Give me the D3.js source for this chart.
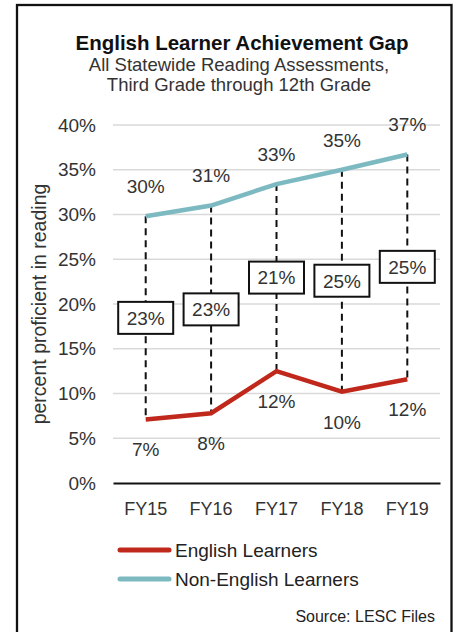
<!DOCTYPE html>
<html><head><meta charset="utf-8">
<script src="https://cdn.jsdelivr.net/npm/d3@7"></script>
<style>body{margin:0;background:#fff}svg{display:block}text{font-family:"Liberation Sans",Arial,sans-serif;fill:#333}</style>
</head><body>
<script>
const years = ["FY15","FY16","FY17","FY18","FY19"];
const englishLearners = [7.1, 7.8, 12.5, 10.2, 11.6];
const nonEnglishLearners = [29.8, 31.0, 33.4, 35.0, 36.7];
const elLabels = ["7%","8%","12%","10%","12%"];
const nonElLabels = ["30%","31%","33%","35%","37%"];
const gapLabels = ["23%","23%","21%","25%","25%"];
const yTicks = [0,5,10,15,20,25,30,35,40];

const W = 458, H = 632;
const NUM = "19px";
const svg = d3.select("body").append("svg").attr("width", W).attr("height", H);

svg.append("rect").attr("x",17).attr("y",5).attr("width",434.5).attr("height",H+10)
  .attr("fill","none").attr("stroke","#111").attr("stroke-width",2.3);

const x = d3.scaleBand().domain(years).range([113,440]);
const xc = d => x(d) + x.bandwidth()/2;
const y = d3.scaleLinear().domain([0,40]).range([483,125]);

// titles
svg.append("text").attr("x",242).attr("y",50).attr("text-anchor","middle")
  .style("font-size","20.5px").style("font-weight","bold").style("fill","#111")
  .text("English Learner Achievement Gap");
svg.append("text").attr("x",239).attr("y",71).attr("text-anchor","middle")
  .style("font-size","18.5px").text("All Statewide Reading Assessments,");
svg.append("text").attr("x",239).attr("y",91).attr("text-anchor","middle")
  .style("font-size","18.5px").text("Third Grade through 12th Grade");

// grid
svg.append("g").selectAll("line").data(yTicks.filter(d=>d>0)).join("line")
  .attr("x1",113).attr("x2",440).attr("y1",d=>y(d)).attr("y2",d=>y(d))
  .attr("stroke","#d9d9d9").attr("stroke-width",1.5);

// y axis
const yAxis = d3.axisLeft(y).tickValues(yTicks).tickFormat(d=>d+"%").tickSize(0).tickPadding(0);
const gy = svg.append("g").attr("transform","translate(96,0)").call(yAxis);
gy.select(".domain").remove();
gy.selectAll("text").style("font-size",NUM).style("fill","#333").attr("font-family",null);

// x axis
const xAxis = d3.axisBottom(x).tickSize(0).tickPadding(0);
const gx = svg.append("g").attr("transform","translate(0,483)").call(xAxis);
gx.select(".domain").attr("stroke","#111").attr("stroke-width",2);
gx.selectAll("text").attr("dy",null).attr("y",32).style("font-size","18px").style("fill","#333").attr("font-family",null);

// y title
svg.append("text").attr("transform","translate(46,304) rotate(-90)").attr("text-anchor","middle")
  .style("font-size","19.5px").text("percent proficient in reading");

// dashed drop lines
svg.append("g").selectAll("line").data(years).join("line")
  .attr("x1",xc).attr("x2",xc)
  .attr("y1",(d,i)=>y(nonEnglishLearners[i])).attr("y2",(d,i)=>y(englishLearners[i]))
  .attr("stroke","#111").attr("stroke-width",2).attr("stroke-dasharray","7,5");

// lines
const line = d3.line().x((d,i)=>xc(years[i])).y(d=>y(d));
svg.append("path").datum(nonEnglishLearners).attr("d",line).attr("fill","none")
  .attr("stroke","#7db9c1").attr("stroke-width",4.5);
svg.append("path").datum(englishLearners).attr("d",line).attr("fill","none")
  .attr("stroke","#c0281c").attr("stroke-width",4.5);

// gap boxes
const gb = svg.append("g").selectAll("g").data(years).join("g")
  .attr("transform",(d,i)=>`translate(${xc(d)},${(y(nonEnglishLearners[i])+y(englishLearners[i]))/2})`);
gb.append("rect").attr("x",-27.5).attr("y",-16).attr("width",55).attr("height",32)
  .attr("fill","#fff").attr("stroke","#111").attr("stroke-width",2);
gb.append("text").attr("text-anchor","middle").attr("dy","0.36em").style("font-size",NUM)
  .text((d,i)=>gapLabels[i]);

// value labels
svg.append("g").selectAll("text").data(years).join("text")
  .attr("x",xc).attr("y",(d,i)=>y(nonEnglishLearners[i])-30).attr("dy","0.36em")
  .attr("text-anchor","middle").style("font-size",NUM).text((d,i)=>nonElLabels[i]);
svg.append("g").selectAll("text").data(years).join("text")
  .attr("x",xc).attr("y",(d,i)=>y(englishLearners[i])+30).attr("dy","0.36em")
  .attr("text-anchor","middle").style("font-size",NUM).text((d,i)=>elLabels[i]);

// legend
const legend = [["English Learners","#c0281c"],["Non-English Learners","#7db9c1"]];
const lg = svg.append("g").selectAll("g").data(legend).join("g")
  .attr("transform",(d,i)=>`translate(0,${550+i*29})`);
lg.append("line").attr("x1",120).attr("x2",169).attr("stroke",d=>d[1])
  .attr("stroke-width",5).attr("stroke-linecap","round");
lg.append("text").attr("x",175).attr("dy","0.36em").style("font-size","19px").style("fill","#222").text(d=>d[0]);

svg.append("text").attr("x",435).attr("y",622).attr("text-anchor","end")
  .style("font-size","16px").style("fill","#222").text("Source: LESC Files");
</script>
</body></html>
